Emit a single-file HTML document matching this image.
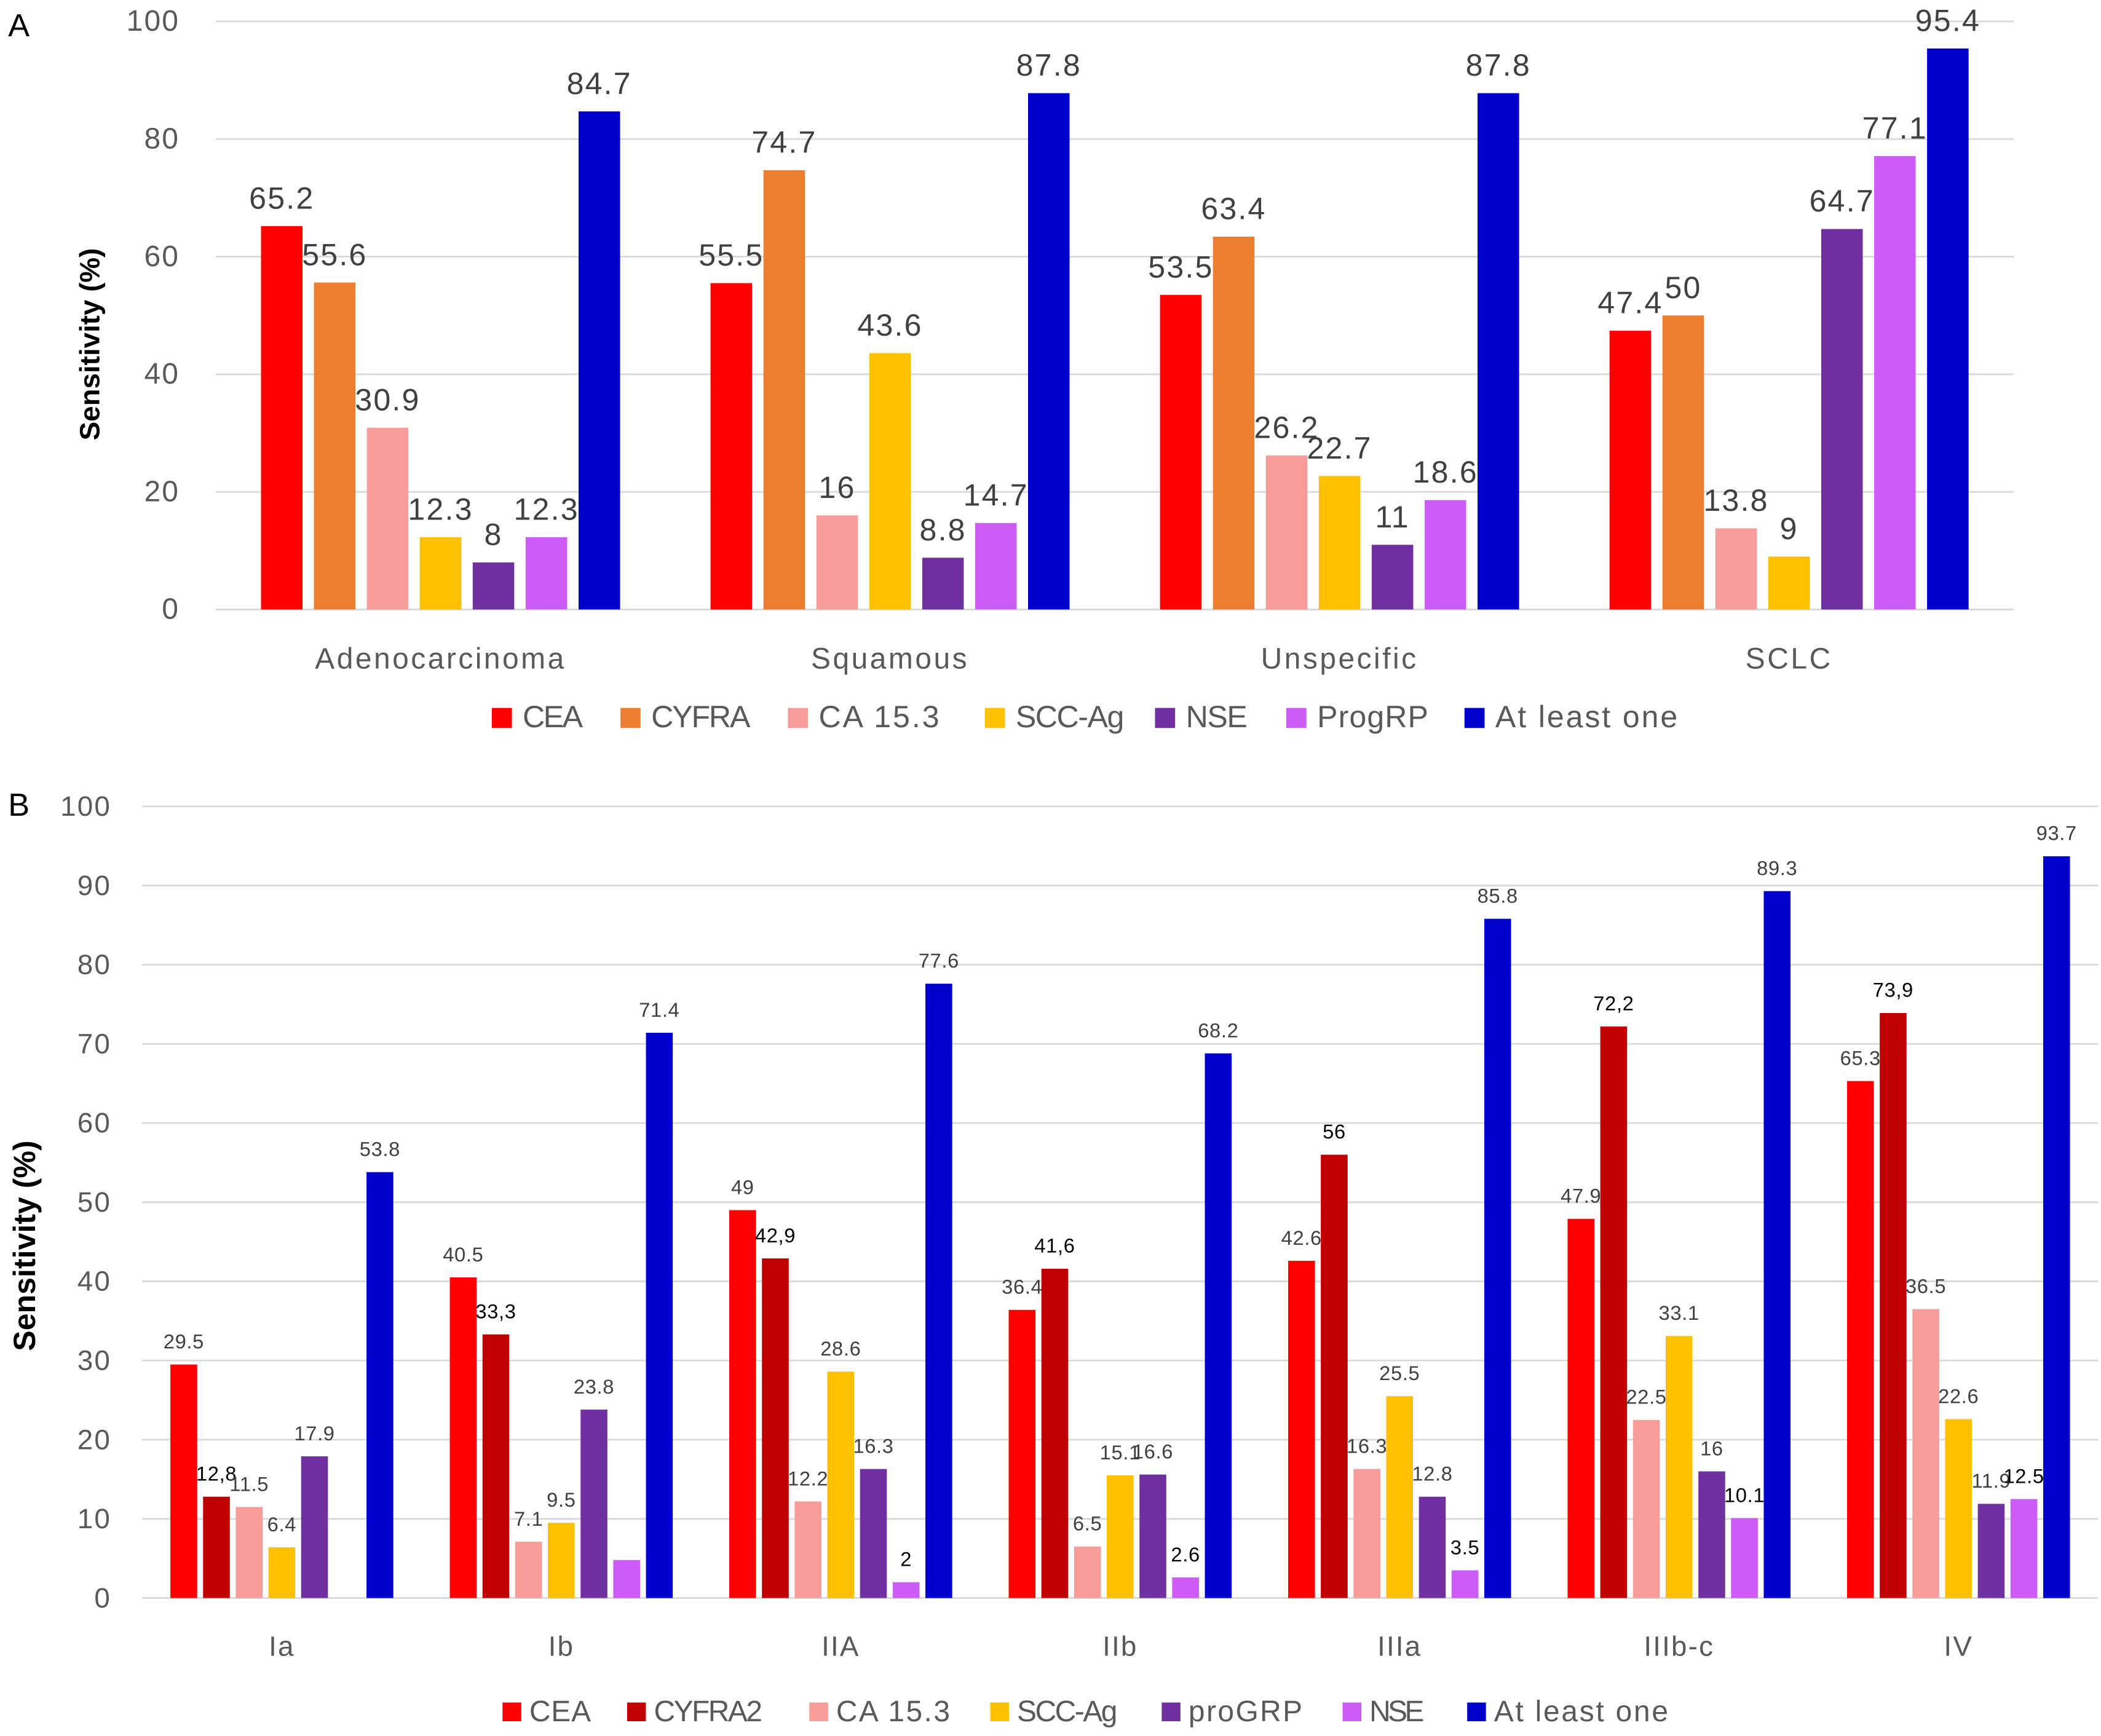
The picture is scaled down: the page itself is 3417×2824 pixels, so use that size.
<!DOCTYPE html>
<html><head><meta charset="utf-8"><style>
html,body{margin:0;padding:0;background:#fff;}
svg{display:block;font-family:"Liberation Sans","DejaVu Sans",sans-serif;}
</style></head><body>
<svg id="fig" width="3417" height="2824" viewBox="0 0 1568 1296" xmlns="http://www.w3.org/2000/svg">
<text x="6" y="27" font-size="24" fill="#000">A</text>
<text x="6" y="609" font-size="24" fill="#000">B</text>
<g id="chartA"></g>
<g id="chartB"></g>
</svg>
<script>
// Panel A data
const catsA = ["Adenocarcinoma","Squamous","Unspecific","SCLC"];
const seriesA = ["CEA","CYFRA","CA 15.3","SCC-Ag","NSE","ProgRP","At least one"];
const valsA_CEA = [65.2,55.5,53.5,47.4];
const valsA_CYFRA = [55.6,74.7,63.4,50];
const valsA_CA153 = [30.9,16,26.2,13.8];
const valsA_SCC = [12.3,43.6,22.7,9];
const valsA_NSE = [8,8.8,11,64.7];
const valsA_ProgRP = [12.3,14.7,18.6,77.1];
const valsA_Any = [84.7,87.8,87.8,95.4];
const ticksA = [0,20,40,60,80,100];
// Panel B data
const catsB = ["Ia","Ib","IIA","IIb","IIIa","IIIb-c","IV"];
const seriesB = ["CEA","CYFRA2","CA 15.3","SCC-Ag","proGRP","NSE","At least one"];
const valsB_CEA = [29.5,40.5,49,36.4,42.6,47.9,65.3];
const valsB_CYFRA2 = [12.8,33.3,42.9,41.6,56,72.2,73.9];
const valsB_CA153 = [11.5,7.1,12.2,6.5,16.3,22.5,36.5];
const valsB_SCC = [6.4,9.5,28.6,15.5,25.5,33.1,22.6];
const valsB_proGRP = [17.9,23.8,16.3,15.6,12.8,16,11.9];
const valsB_NSE = [0,4.8,2,2.6,3.5,10.1,12.5];
const valsB_Any = [53.8,71.4,77.6,68.8,85.8,89.3,93.7];
const labelsB_CEA = ["29.5","40.5","49","36.4","42.6","47.9","65.3"];
const labelsB_CYFRA2 = ["12,8","33,3","42,9","41,6","56","72,2","73,9"];
const labelsB_CA153 = ["11.5","7.1","12.2","6.5","16.3","22.5","36.5"];
const labelsB_SCC = ["6.4","9.5","28.6","15.1","25.5","33.1","22.6"];
const labelsB_proGRP = ["17.9","23.8","16.3","16.6","12.8","16","11.9"];
const labelsB_NSE = ["","","2","2.6","3.5","10.1","12.5"];
const labelsB_Any = ["53.8","71.4","77.6","68.2","85.8","89.3","93.7"];
const ticksB = [0,10,20,30,40,50,60,70,80,90,100];

const NS="http://www.w3.org/2000/svg";
function mk(parent,tag,attrs,text){const e=document.createElementNS(NS,tag);for(const k in attrs)e.setAttribute(k,attrs[k]);if(text!==undefined)e.textContent=text;parent.appendChild(e);return e;}

function drawChart(g,cfg){
  const y=v=>cfg.y0-(v/cfg.max)*(cfg.y0-cfg.y1);
  cfg.ticks.forEach(t=>{
    const l=mk(g,"line",{x1:cfg.x0,x2:cfg.x1,y1:y(t),y2:y(t),stroke:"#d9d9d9","stroke-width":1.3});
    
    
    const tx=mk(g,"text",{x:cfg.tickX,y:y(t)+7,"font-size":cfg.tickFs,"letter-spacing":1,fill:"#595959","text-anchor":"end"},String(t));
    
    
  });
  const cw=(cfg.x1-cfg.x0)/cfg.cats.length;
  cfg.cats.forEach((c,i)=>{
    const cx=cfg.x0+cw*(i+0.5);
    cfg.vals.forEach((arr,s)=>{
      const v=arr[i];
      const bx=cx+(s-3)*cfg.step-cfg.bw/2;
      if(v>0){
        const r=mk(g,"rect",{x:bx,y:y(v),width:cfg.bw,height:y(0)-y(v),fill:cfg.colors[s]});
        
        
      }
      const lab=cfg.labels?cfg.labels[s][i]:String(v);
      if(lab!==""){
        const t=mk(g,"text",{x:bx+cfg.bw/2,y:y(v)-cfg.labOff,"font-size":cfg.labFs,"letter-spacing":cfg.labLs,fill:cfg.labColors?cfg.labColors[s]:"#404040","text-anchor":"middle"},lab);
        
        
      }
    });
    const xl=mk(g,"text",{x:cx,y:cfg.catY,"font-size":cfg.catFs,"letter-spacing":cfg.catLs,fill:"#595959","text-anchor":"middle"},c);
    
    
  });
  const yt=mk(g,"text",{x:0,y:0,"font-size":cfg.ytFs,"font-weight":"bold",fill:"#000","text-anchor":"middle",transform:`translate(${cfg.ytX},${cfg.ytY}) rotate(-90)`},"Sensitivity (%)");
  
  
  cfg.series.forEach((s,k)=>{
    const lx=cfg.legXs[k];
    const r=mk(g,"rect",{x:lx,y:cfg.legY-cfg.legSq/2-7,width:cfg.legSq,height:cfg.legSq,fill:cfg.colors[k]});
    
    
    const t=mk(g,"text",{x:lx+cfg.legTx,y:cfg.legY,"font-size":cfg.legFs,fill:"#595959",textLength:cfg.legWs[k],lengthAdjust:"spacing"},s);
    
    
  });
}

drawChart(document.getElementById("chartA"),{
  cats:catsA,series:seriesA,
  vals:[valsA_CEA,valsA_CYFRA,valsA_CA153,valsA_SCC,valsA_NSE,valsA_ProgRP,valsA_Any],
  colors:["#ff0000","#ed7d31","#f79c98","#ffc000","#7030a0","#cc5cf5","#0000cc"],
  ticks:ticksA,max:100,y0:455,y1:16,x0:161,x1:1503,step:39.5,bw:31,
  tickX:134,tickFs:22,labFs:23,labLs:1,labOff:13,catY:499,catFs:22,catLs:1.6,ytFs:21,ytX:74,ytY:257,
  legXs:[367,463,588,735,862,960,1093],legWs:[45,74,90,81,46,83,136],legTx:23,
  legY:543,legSq:15,legFs:23
});
drawChart(document.getElementById("chartB"),{
  cats:catsB,series:seriesB,
  vals:[valsB_CEA,valsB_CYFRA2,valsB_CA153,valsB_SCC,valsB_proGRP,valsB_NSE,valsB_Any],
  labels:[labelsB_CEA,labelsB_CYFRA2,labelsB_CA153,labelsB_SCC,labelsB_proGRP,labelsB_NSE,labelsB_Any],
  labColors:["#404040","#000","#404040","#404040","#404040","#000","#404040"],
  colors:["#ff0000","#c00000","#f79c98","#ffc000","#7030a0","#cc5cf5","#0000cc"],
  ticks:ticksB,max:100,y0:1193,y1:602,x0:106,x1:1566,step:24.4,bw:20,
  tickX:83,tickFs:21,labFs:15,labLs:0.3,labOff:12,catY:1236,catFs:21,catLs:1,ytFs:23,ytX:26,ytY:930,
  legXs:[375,468,604,739,867,1002,1095],legWs:[46,81,85,75,85,41,130],legTx:20,
  legY:1285,legSq:14,legFs:22
});
</script>
</body></html>
